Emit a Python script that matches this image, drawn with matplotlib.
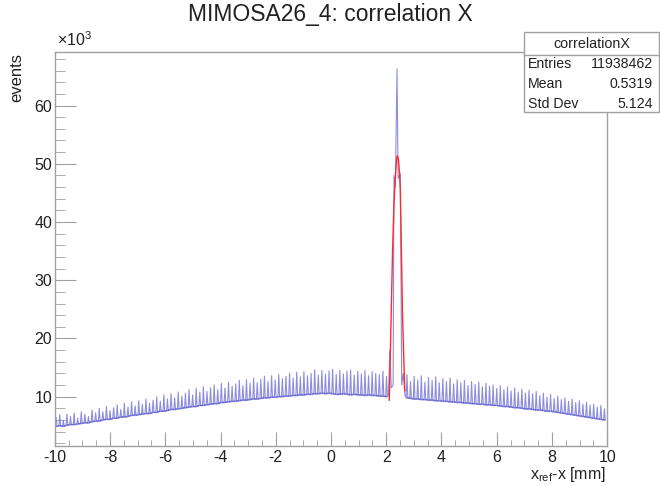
import matplotlib
matplotlib.use("Agg")
import matplotlib.pyplot as plt
from matplotlib.patches import Rectangle
from matplotlib.lines import Line2D
from matplotlib.ticker import MultipleLocator

plt.rcParams['font.family'] = ['Liberation Sans', 'DejaVu Sans']
plt.rcParams['axes.unicode_minus'] = False

# spike pattern of the correlation histogram (values in units of 10^3 events)
pitch = 0.13
left_start = -9.95
right_start = 2.75

left_base = [4.9, 5.0, 4.9, 5.1, 5.2, 5.2, 5.3, 5.4, 5.5, 5.5,
             5.7, 5.8, 5.8, 6.0, 6.1, 6.1, 6.3, 6.3, 6.5, 6.5,
             6.6, 6.8, 6.8, 6.9, 7.0, 7.1, 7.1, 7.3, 7.3, 7.5,
             7.5, 7.6, 7.8, 7.8, 7.9, 8.0, 8.1, 8.2, 8.3, 8.3,
             8.5, 8.5, 8.6, 8.7, 8.8, 8.8, 9.0, 9.0, 9.1, 9.2,
             9.2, 9.3, 9.4, 9.4, 9.5, 9.6, 9.6, 9.7, 9.8, 9.8,
             9.9, 9.9, 10.0, 10.0, 10.1, 10.1, 10.2, 10.2, 10.3, 10.3,
             10.4, 10.4, 10.5, 10.5, 10.6, 10.5, 10.6, 10.5, 10.4, 10.4,
             10.5, 10.4, 10.3, 10.4, 10.3, 10.3, 10.2, 10.3, 10.2, 10.2,
             10.1, 10.1, 10.0]
left_top = [6.4, 6.9, 5.9, 7.0, 6.6, 7.2, 6.3, 7.4, 7.0, 6.6,
            7.7, 7.2, 8.0, 7.4, 8.3, 7.6, 8.1, 8.6, 7.8, 8.9,
            8.2, 9.1, 8.4, 9.3, 8.7, 9.6, 8.9, 9.4, 10.0, 9.2,
            10.3, 9.6, 10.5, 9.8, 10.8, 10.1, 10.6, 11.2, 10.3, 11.4,
            10.8, 11.7, 10.9, 11.5, 12.0, 11.2, 12.3, 11.5, 12.5, 11.8,
            12.2, 12.8, 11.9, 12.9, 12.3, 13.2, 12.4, 13.0, 13.5, 12.6,
            13.6, 12.9, 13.8, 13.1, 13.5, 14.0, 13.2, 14.2, 13.4, 14.3,
            13.6, 14.0, 14.6, 13.7, 14.5, 13.9, 14.4, 14.7, 13.8, 14.5,
            13.9, 14.4, 14.6, 13.7, 14.4, 13.9, 14.5, 13.6, 14.3, 14.0,
            13.8, 14.4, 13.5]

right_base = [9.8, 9.7, 9.6, 9.6, 9.5, 9.5, 9.4, 9.4, 9.3, 9.3,
              9.2, 9.2, 9.1, 9.1, 9.0, 9.0, 8.9, 8.9, 8.8, 8.8,
              8.7, 8.7, 8.6, 8.6, 8.5, 8.5, 8.4, 8.3, 8.3, 8.2,
              8.1, 8.1, 8.0, 7.9, 7.9, 7.8, 7.7, 7.7, 7.6, 7.5,
              7.5, 7.4, 7.3, 7.2, 7.1, 7.0, 6.9, 6.8, 6.7, 6.6,
              6.5, 6.4, 6.3, 6.2, 6.1, 6.0]
right_top = [13.8, 12.6, 13.5, 12.9, 13.6, 12.5, 13.3, 12.8, 13.4, 12.4,
             13.1, 12.6, 13.2, 12.2, 12.9, 12.4, 12.8, 11.9, 12.6, 12.1,
             12.5, 11.7, 12.3, 11.8, 12.0, 11.4, 11.9, 11.2, 11.7, 11.0,
             11.5, 10.8, 11.3, 10.6, 11.1, 10.5, 10.9, 10.2, 10.6, 9.9,
             10.4, 9.7, 10.1, 9.5, 9.8, 9.2, 9.6, 9.0, 9.3, 8.7,
             9.0, 8.5, 8.7, 8.2, 8.5, 7.9]

# correlation peak
peak_x = [2.08, 2.13, 2.18, 2.25, 2.28, 2.33, 2.39, 2.43, 2.51, 2.56, 2.62, 2.68]
peak_y = [10.2, 18.0, 11.5, 12.0, 48.0, 46.0, 66.3, 47.5, 48.3, 12.0, 14.0, 10.2]

# gaussian fit curve
fit_x = [2.11, 2.17, 2.23, 2.28, 2.33, 2.37, 2.40, 2.44, 2.48, 2.51, 2.55, 2.59, 2.63, 2.67]
fit_y = [9.4, 22.0, 35.2, 43.0, 47.8, 50.6, 51.4, 50.8, 48.5, 45.5, 35.0, 23.8, 17.5, 11.0]

stats_names = ["Entries", "Mean", "Std Dev"]
stats_values = ["11938462", "0.5319", "5.124"]


def spikes(x0, base, top):
    xs, ys, bx = [], [], []
    for i, (b, t) in enumerate(zip(base, top)):
        c = x0 + i * pitch
        xs += [c - 0.03, c, c + 0.03]
        ys += [b, t, b]
        bx.append(c)
    return xs, ys, bx


lx, ly, lbx = spikes(left_start, left_base, left_top)
rx, ry, rbx = spikes(right_start, right_base, right_top)

fig = plt.figure(figsize=(6.6, 4.86), dpi=100)
ax = fig.add_axes([0.083, 0.082, 0.837, 0.811])

blue = '#5050cc'
ax.plot(lx + peak_x + rx, ly + peak_y + ry, color=blue, lw=0.8, alpha=0.65)
ax.plot(lbx, left_base, color=blue, lw=1.2, alpha=0.6)
ax.plot(rbx, right_base, color=blue, lw=1.2, alpha=0.6)
ax.plot(fit_x, fit_y, color='#ff2a2a', lw=1.0)

ax.set_xlim(-10, 10)
ax.set_ylim(1.5, 69.2)
ax.xaxis.set_major_locator(MultipleLocator(2))
ax.xaxis.set_minor_locator(MultipleLocator(0.5))
ax.set_yticks([10, 20, 30, 40, 50, 60])
ax.yaxis.set_minor_locator(MultipleLocator(2))

grey = '#a0a0a0'
for s in ax.spines.values():
    s.set_color(grey)
    s.set_linewidth(1.0)
ax.tick_params(axis='both', which='both', direction='in', colors=grey,
               labelcolor='#222222', labelsize=11.5)
ax.tick_params(axis='x', which='major', length=10, pad=3)
ax.tick_params(axis='x', which='minor', length=4.5)
ax.tick_params(axis='y', which='major', length=15, pad=2)
ax.tick_params(axis='y', which='minor', length=7.5)
ax.tick_params(top=False, right=False)

fig.text(0.5, 1 - 15 / 486, "MIMOSA26_4: correlation X", ha='center', va='center',
         fontsize=16.5, color='#222222')
fig.text(57 / 660, 1 - 40 / 486, "×10$^\\mathregular{3}$", ha='left', va='center',
         fontsize=11.5, color='#222222')
fig.text(17 / 660, 1 - 53 / 486, "events", rotation=90, ha='center', va='top',
         fontsize=12, color='#222222')
fig.text(606 / 660, 1 - 484 / 486, "x$_\\mathregular{ref}$-x [mm]", ha='right', va='bottom',
         fontsize=11.5, color='#222222')

# stats box
bx0, bx1 = 524 / 660, 659 / 660
by0, by1 = 1 - 112 / 486, 1 - 32 / 486
fig.add_artist(Rectangle((bx0, by0), bx1 - bx0, by1 - by0, transform=fig.transFigure,
                         facecolor='white', edgecolor=grey, lw=1.0))
fig.add_artist(Line2D([bx0, bx1], [1 - 55 / 486] * 2, transform=fig.transFigure,
                      color=grey, lw=1.0))
fig.text((bx0 + bx1) / 2, 1 - 44 / 486, "correlationX", ha='center', va='center',
         fontsize=10.3, color='#222222')
for k, (n, v) in enumerate(zip(stats_names, stats_values)):
    yy = 1 - (64 + 20 * k) / 486
    fig.text(528 / 660, yy, n, ha='left', va='center', fontsize=10.2, color='#222222')
    fig.text(653 / 660, yy, v, ha='right', va='center', fontsize=10.2, color='#222222')

fig.savefig("out.png", dpi=100)
